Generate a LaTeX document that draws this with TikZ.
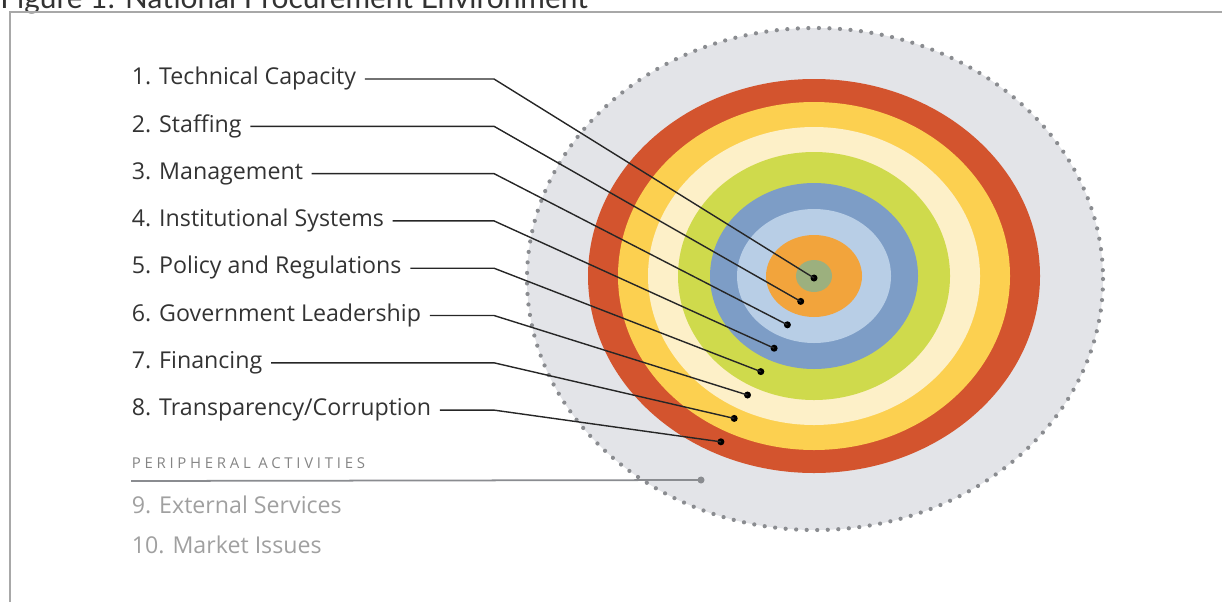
\documentclass[tikz,border=0pt]{standalone}
\usepackage{fontspec}
\setmainfont{Open Sans}
\newfontfamily\titlefont{Lato}

\definecolor{framegray}{HTML}{A8A8A8}
\definecolor{outergray}{HTML}{E3E4E8}
\definecolor{dotgray}{HTML}{8A8C90}
\definecolor{ringred}{HTML}{D3542E}
\definecolor{ringyellow}{HTML}{FCD050}
\definecolor{ringcream}{HTML}{FDF0C8}
\definecolor{ringlime}{HTML}{CFDA4C}
\definecolor{ringblue}{HTML}{7D9DC6}
\definecolor{ringsky}{HTML}{B8CEE6}
\definecolor{ringorange}{HTML}{F2A43C}
\definecolor{ringsage}{HTML}{9CB07E}
\definecolor{labeltext}{HTML}{333333}
\definecolor{peritext}{HTML}{858585}
\definecolor{periitem}{HTML}{A0A0A0}

\begin{document}
\begin{tikzpicture}[x=0.02cm, y=-0.02cm,
    lbltext/.style={anchor=west, inner sep=0pt, outer xsep=5pt,
        text height=9pt, text depth=2.5pt, text=labeltext,
        font=\fontsize{13.2}{15}\selectfont},
    lead/.style={draw=black!85, line width=0.8pt},
    periline/.style={draw=dotgray, line width=1pt},
    pindot/.style={circle, fill=black, inner sep=0pt, minimum size=4pt}]

    \useasboundingbox (0,0) rectangle (1222,602);

    % Centre of the rings
    \def\cx{814}
    \def\cy{276}
    \coordinate (center) at (\cx, \cy);

    % Title and frame
    \node[anchor=base west, inner sep=0pt, text=labeltext,
        font=\titlefont\fontsize{17}{20}\selectfont] (title) at (0, 8)
        {Figure 1: National Procurement Environment};
    \draw[framegray, line width=1.2pt] (10, 602) -- (10, 12) -- (1222, 12);

    % Peripheral zone
    \fill[outergray] (815, 279) ellipse [x radius=288, y radius=251];
    \draw[dotgray, line width=2.4pt, line cap=round, dash pattern=on 0pt off 6pt]
        (815, 279) ellipse [x radius=288, y radius=251];

    % Rings, outside in
    \foreach \rx/\ry/\col in {226/197/ringred, 196/174/ringyellow,
        166/149/ringcream, 136/124/ringlime, 104/93/ringblue,
        77/67/ringsky, 48/41/ringorange, 18/16/ringsage}
        \fill[\col] (center) ellipse [x radius=\rx, y radius=\ry];

    % Labels with leaders
    \foreach \i/\txt in {1/Technical Capacity, 2/Staffing, 3/Management,
        4/Institutional Systems, 5/Policy and Regulations,
        6/Government Leadership, 7/Financing, 8/{Transparency/Corruption}} {
        \node[lbltext] (lbl\i) at (123, {79+47.3*(\i-1)}) {\i. \txt};
        \coordinate (bend\i) at (494, {79+47.3*(\i-1)});
        \node[pindot] (dot\i) at ({\cx-13.3*(\i-1)}, {278+23.4*(\i-1)}) {};
        \draw[lead] (lbl\i.east) -- (bend\i) -- (dot\i.center);
    }

    % Peripheral activities
    \node[lbltext, text=peritext,
        font=\fontsize{8.5}{10}\selectfont\addfontfeatures{LetterSpace=25}]
        (perihead) at (123, 463) {PERIPHERAL ACTIVITIES};
    \coordinate (peristart) at (131, 481);
    \node[pindot, fill=dotgray] (peridot) at (701, 480) {};
    \draw[periline] (peristart) -- (peridot.center);
    \node[lbltext, text=periitem] (lbl9) at (123, 508) {9. External Services};
    \node[lbltext, text=periitem] (lbl10) at (123, 548) {10. Market Issues};

\end{tikzpicture}
\end{document}
